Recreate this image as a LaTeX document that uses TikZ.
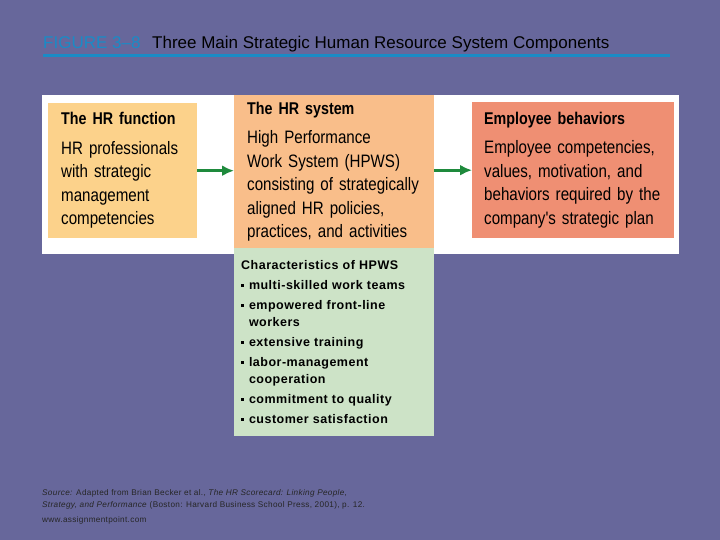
\documentclass[tikz,border=0pt]{standalone}
\usepackage{fontspec}
\setmainfont{Liberation Sans}
\newfontfamily\condfont[FakeStretch=0.84,WordSpace=0.75]{Liberation Sans}
\newfontfamily\spacedfont[LetterSpace=4]{Liberation Sans}
\usetikzlibrary{arrows.meta}
\definecolor{slate}{HTML}{67679B}
\definecolor{figblue}{HTML}{1A8BC6}
\definecolor{funcfill}{HTML}{FCD28B}
\definecolor{sysfill}{HTML}{F9BE8A}
\definecolor{behfill}{HTML}{EF8F73}
\definecolor{hpwsfill}{HTML}{CDE3C7}
\definecolor{arrowgreen}{HTML}{1E8A3C}
\newcommand{\boxhead}[1]{{\fontsize{17}{23}\selectfont\bfseries #1}\\[6pt]}
\newcommand{\sqbul}{\raisebox{2.8pt}{\rule{2.8pt}{2.8pt}}\hspace{5pt}}
\begin{document}
\begin{tikzpicture}[x=1pt,y=-1pt,
  hrbox/.style={anchor=north west,inner xsep=13pt,inner ysep=0pt,align=left,
    font=\condfont\fontsize{18}{23.5}\selectfont},
  hpws/.style={anchor=north west,inner xsep=7pt,inner ysep=0pt,align=left,
    text width=186pt,minimum height=188pt,
    font=\spacedfont\fontsize{12.5}{20}\selectfont\bfseries},
  flow/.style={-{Latex[length=12pt,width=11pt]},line width=3pt,arrowgreen}]
  \fill[slate] (0,0) rectangle (720,540);
  \useasboundingbox (0,0) rectangle (720,540);
  % title
  \node[anchor=base west,inner sep=0pt,figblue,font=\fontsize{17}{19}\selectfont] (fig) at (43,49) {FIGURE 3--8};
  \node[anchor=base west,inner sep=0pt,font=\fontsize{17}{19}\selectfont] (title) at (152,49) {Three Main Strategic Human Resource System Components};
  \draw[figblue,line width=2.5pt] (43,55.5) -- (670,55.5);
  % panel
  \fill[white] (42,95) rectangle (679,254);
  \node[hrbox,fill=funcfill,text width=123pt,minimum height=135pt] (func) at (48,103)
    {\boxhead{The HR function}HR professionals\\with strategic\\management\\competencies};
  \node[hrbox,fill=sysfill,text width=174pt,minimum height=153pt] (sys) at (234,95)
    {\boxhead{The HR system}High Performance\\Work System (HPWS)\\consisting of strategically\\aligned HR policies,\\practices, and activities};
  \node[hrbox,fill=behfill,inner xsep=12pt,text width=178pt,minimum height=136pt] (beh) at (472,102)
    {\boxhead{Employee behaviors}Employee competencies,\\values, motivation, and\\behaviors required by the\\company's strategic plan};
  \node[hpws,fill=hpwsfill] (char) at (234,248)
    {Characteristics of HPWS\\
     \sqbul multi-skilled work teams\\
     \sqbul empowered front-line\\[-3pt]
     \hspace*{7.8pt}workers\\
     \sqbul extensive training\\
     \sqbul labor-management\\[-3pt]
     \hspace*{7.8pt}cooperation\\
     \sqbul commitment to quality\\
     \sqbul customer satisfaction};
  \draw[flow] (func.east) -- (func.east -| sys.west);
  \draw[flow] (beh.west -| sys.east) -- (beh.west);
  % source
  \node[anchor=north west,inner sep=0pt,align=left,text=black!85,font=\spacedfont\fontsize{8.2}{12.5}\selectfont] (src) at (42,489)
    {\textit{Source:} Adapted from Brian Becker et al., \textit{The HR Scorecard: Linking People,}\\
     \textit{Strategy, and Performance} (Boston: Harvard Business School Press, 2001), p. 12.};
  \node[anchor=north west,inner sep=0pt,text=black!85,font=\spacedfont\fontsize{8.2}{10}\selectfont] (web) at (42,516) {www.assignmentpoint.com};
\end{tikzpicture}
\end{document}
